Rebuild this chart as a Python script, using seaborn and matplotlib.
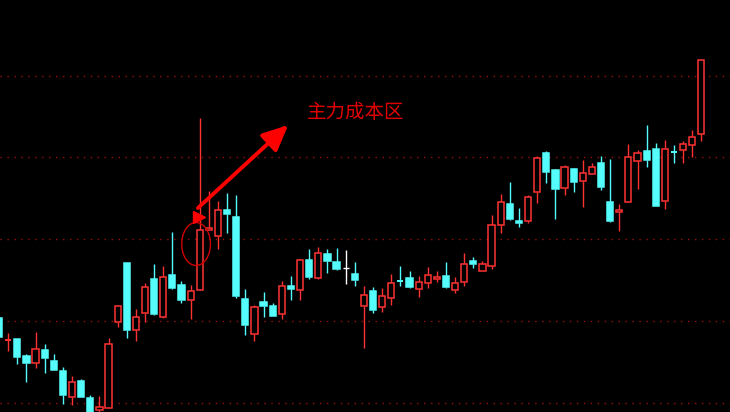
import numpy as np
import pandas as pd
import matplotlib
matplotlib.use("Agg")
import matplotlib.pyplot as plt
import seaborn as sns
from matplotlib.patches import Ellipse

# ---- data ----
opens = [10.94, 10.72, 10.73, 10.56, 10.49, 10.62, 10.51, 10.41, 10.15, 10.31,
         10.14, 10.02, 10.04, 10.90, 11.49, 10.82, 10.99, 11.33, 10.95, 11.37,
         11.27, 11.12, 11.22, 11.82, 11.76, 12.02, 11.95, 11.13, 10.78, 11.10,
         11.06, 10.98, 11.26, 11.22, 11.52, 11.34, 11.58, 11.50, 11.44, 11.38,
         11.06, 11.21, 11.05, 11.14, 11.32, 11.34, 11.23, 11.29, 11.33, 11.36,
         11.22, 11.30, 11.51, 11.41, 11.46, 11.87, 12.08, 11.91, 11.91, 12.20,
         12.59, 12.42, 12.24, 12.43, 12.31, 12.38, 12.49, 12.10, 12.00, 12.10,
         12.51, 12.61, 12.63, 12.11, 12.61, 12.62, 12.67, 12.78]
highs = [10.94, 10.79, 10.73, 10.58, 10.80, 10.68, 10.58, 10.45, 10.36, 10.33,
         10.17, 10.16, 10.74, 11.06, 11.49, 11.03, 11.29, 11.48, 11.46, 11.80,
         11.31, 11.27, 12.94, 12.21, 12.11, 12.19, 12.17, 11.23, 11.07, 11.20,
         11.09, 11.31, 11.36, 11.53, 11.63, 11.65, 11.63, 11.64, 11.62, 11.50,
         11.26, 11.25, 11.24, 11.38, 11.46, 11.41, 11.36, 11.45, 11.41, 11.50,
         11.35, 11.59, 11.55, 11.51, 11.97, 12.18, 12.30, 12.04, 12.17, 12.56,
         12.61, 12.43, 12.47, 12.44, 12.52, 12.49, 12.56, 12.53, 12.08, 12.68,
         12.62, 12.87, 12.69, 12.72, 12.67, 12.71, 12.82, 13.52]
lows = [10.75, 10.61, 10.48, 10.30, 10.44, 10.39, 10.42, 10.08, 10.07, 10.15,
        9.92, 9.98, 10.04, 10.85, 10.74, 10.71, 10.90, 10.97, 10.94, 11.23,
        11.09, 10.93, 11.22, 11.82, 11.63, 11.79, 11.14, 10.77, 10.71, 10.95,
        10.96, 10.93, 11.12, 11.12, 11.33, 11.33, 11.39, 11.42, 11.28, 11.26,
        10.64, 10.99, 11.00, 11.07, 11.26, 11.24, 11.15, 11.24, 11.30, 11.24,
        11.19, 11.26, 11.44, 11.41, 11.43, 11.79, 11.92, 11.85, 11.89, 12.09,
        12.29, 11.93, 12.17, 12.20, 12.05, 12.38, 12.22, 11.90, 11.81, 12.10,
        12.23, 12.45, 12.06, 12.03, 12.49, 12.49, 12.55, 12.71]
closes = [10.75, 10.73, 10.55, 10.49, 10.63, 10.54, 10.42, 10.17, 10.30, 10.15,
          9.96, 10.05, 10.68, 11.06, 10.82, 10.95, 11.25, 10.98, 11.35, 11.24,
          11.12, 11.21, 11.82, 11.84, 12.02, 11.98, 11.16, 10.87, 11.05, 11.06,
          10.96, 11.26, 11.23, 11.52, 11.35, 11.59, 11.51, 11.43, 11.44, 11.32,
          11.17, 11.02, 11.16, 11.29, 11.31, 11.25, 11.30, 11.37, 11.35, 11.25,
          11.29, 11.48, 11.48, 11.48, 11.87, 12.10, 11.93, 11.89, 12.15, 12.54,
          12.40, 12.23, 12.45, 12.30, 12.39, 12.45, 12.25, 11.91, 12.02, 12.55,
          12.59, 12.52, 12.06, 12.63, 12.60, 12.68, 12.75, 13.52]
grid_levels = [10.087, 10.907, 11.727, 12.547, 13.365]
label_text = "主力成本区"
marked_candle = 22

# ---- style ----
sns.set_theme(style="dark", rc={"axes.facecolor": "black", "figure.facecolor": "black",
                                "savefig.facecolor": "black"})
plt.rcParams['font.family'] = ['Noto Sans CJK SC', 'DejaVu Sans']

RED = "#ff3232"
CYAN = "#54fcfc"

df = pd.DataFrame({"open": opens, "high": highs, "low": lows, "close": closes})
df["idx"] = np.arange(len(df))

fig = plt.figure(figsize=(7.3, 4.12), dpi=100)
ax = fig.add_axes([0, 0, 1, 1])
ax.set_facecolor("black")

for g in grid_levels:
    ax.axhline(g, color="#9a1010", lw=1.0, ls=(0, (1, 4)), zorder=0)

bw = 0.68
for _, r in df.iterrows():
    i, o, h, l, c = r["idx"], r["open"], r["high"], r["low"], r["close"]
    top, bot = max(o, c), min(o, c)
    if c > o:
        col = RED
    elif c < o:
        col = CYAN
    else:
        col = "white"
    ax.vlines(i, top, h, color=col, lw=1.0, zorder=2)
    ax.vlines(i, l, bot, color=col, lw=1.0, zorder=2)
    if top - bot < 0.012:
        ax.hlines((top + bot) / 2, i - bw / 2, i + bw / 2, color=col,
                  lw=1.4 if col != "white" else 1.0, zorder=3)
    elif col == RED:
        ax.bar(i, top - bot, bottom=bot, width=bw, facecolor="black", edgecolor=col, lw=1.1, zorder=3)
    else:
        ax.bar(i, top - bot, bottom=bot, width=bw, facecolor=col, edgecolor=col, lw=1.1, zorder=3)

# annotation: ellipse, flag, arrow, label
ax.add_patch(Ellipse((marked_candle - 0.4, 11.68), 3.15, 0.43, fill=False,
                     edgecolor="#d00000", lw=1.0, zorder=4))
ax.plot([marked_candle - 0.1], [11.95], marker=">", color="#ff0000", markersize=9, zorder=5)
ax.annotate("", xy=(31.7, 12.87), xytext=(21.8, 12.04),
            arrowprops=dict(arrowstyle="-|>,head_length=1.3,head_width=0.6", color="#ff0000", lw=2.8,
                            shrinkA=0, shrinkB=0), zorder=5)
ax.text(39.1, 12.99, label_text, color="#e00000", fontsize=14, ha="center", va="center", zorder=5)

ax.set_xlim(0.1, 80.14)
ax.set_ylim(10.0, 14.12)
ax.set_xticks([])
ax.set_yticks([])
for s in ax.spines.values():
    s.set_visible(False)
ax.grid(False)

fig.savefig("out.png", dpi=100, facecolor="black")
